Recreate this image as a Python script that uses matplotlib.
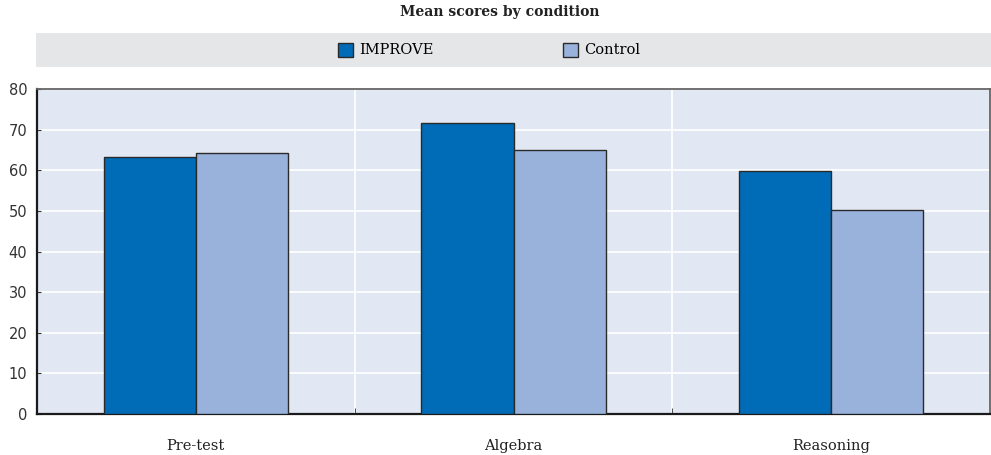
import numpy as np
import matplotlib.pyplot as plt
from matplotlib.patches import Rectangle

categories = ["Pre-test", "Algebra", "Reasoning"]
series_names = ["IMPROVE", "Control"]
improve_vals = [63.3, 71.6, 59.8]
control_vals = [64.2, 65.0, 50.1]
y_ticks = [0, 10, 20, 30, 40, 50, 60, 70, 80]

COLORS = ["#006BB6", "#98B2DC"]
BG = "#E1E8F3"
BAND = "#E5E6E8"

W, H = 991, 455
plt.rcParams["font.family"] = ["DejaVu Serif"]

fig = plt.figure(figsize=(W / 100, H / 100), dpi=100)
ax = fig.add_axes([37 / W, (H - 414) / H, (990 - 37) / W, (414 - 89) / H])
ax.set_facecolor(BG)

x = np.arange(len(categories))
bw = 0.29
bars = []
for i, (name, vals) in enumerate(zip(series_names, [improve_vals, control_vals])):
    b = ax.bar(x + (i - 0.5) * bw, vals, width=bw, color=COLORS[i], edgecolor="#2a2a2a",
               linewidth=1.0, label=name, zorder=3)
    bars.append(b)

ax.set_xlim(-0.5, len(categories) - 0.5)
ax.set_ylim(0, 80)
ax.set_yticks(y_ticks)
ax.set_yticklabels([str(v) for v in y_ticks], family="DejaVu Sans", fontsize=10.5, color="#333333")
ax.set_xticks(x)
ax.set_xticklabels(categories, fontsize=10.5, color="#222222")
ax.set_xticks(x[:-1] + 0.5, minor=True)
ax.tick_params(axis="x", which="major", length=0, pad=18)
ax.tick_params(axis="x", which="minor", direction="in", length=4, color="#333333")
ax.tick_params(axis="y", direction="in", length=3, pad=7, color="#333333")

ax.grid(axis="y", color="white", linewidth=1.2, zorder=0)
ax.grid(axis="x", which="minor", color="white", linewidth=1.2, zorder=0)
ax.set_axisbelow(True)

for side in ("left", "bottom"):
    ax.spines[side].set_color("#1a1a1a")
    ax.spines[side].set_linewidth(1.6)
for side in ("top", "right"):
    ax.spines[side].set_color("#666666")
    ax.spines[side].set_linewidth(1.3)

# legend band
fig.patches.append(Rectangle((36 / W, (H - 67) / H), (991 - 36) / W, 34 / H,
                             transform=fig.transFigure, facecolor=BAND, edgecolor="none", zorder=0))
fig.legend(handles=bars, labels=series_names, loc="center", bbox_to_anchor=(489 / W, (H - 50) / H),
           ncol=2, frameon=False, fontsize=10.5, handlelength=1.05, handleheight=1.1,
           handletextpad=0.4, columnspacing=8.9, borderpad=0)

fig.text(500 / W, (H - 12) / H, "Mean scores by condition", ha="center", va="center",
         fontsize=10, fontweight="bold", color="#222222")

fig.savefig("out.png", dpi=100)
